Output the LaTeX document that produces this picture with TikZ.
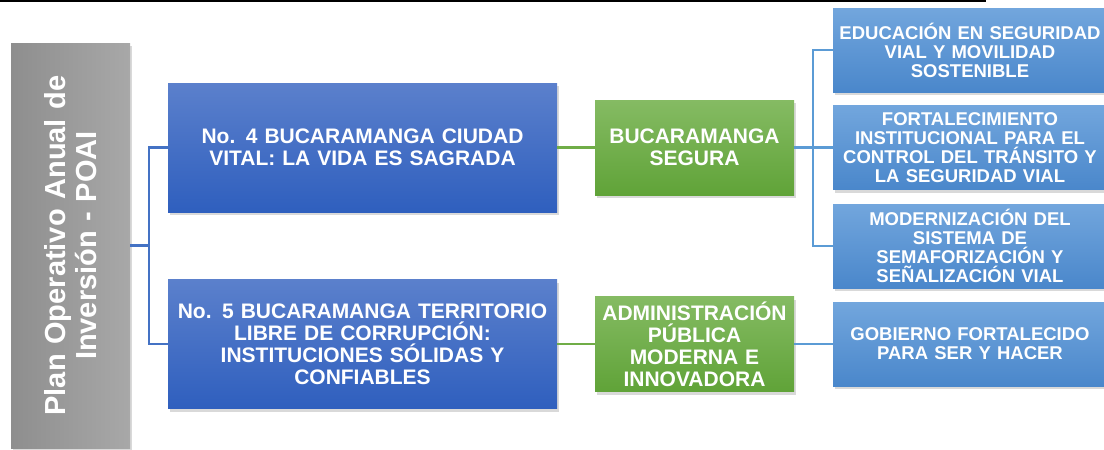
\documentclass[tikz,border=0pt]{standalone}
\usepackage{fontspec}
\setmainfont{Liberation Sans}
\usetikzlibrary{shadows}
\definecolor{grisA}{HTML}{A8A8A8}
\definecolor{grisB}{HTML}{8E8E8E}
\definecolor{azulA}{HTML}{5B80CC}
\definecolor{azulB}{HTML}{2F5FBE}
\definecolor{verdeA}{HTML}{85BB63}
\definecolor{verdeB}{HTML}{60A338}
\definecolor{celA}{HTML}{72A6DD}
\definecolor{celB}{HTML}{4A87CB}
\definecolor{azulL}{HTML}{4472C4}
\definecolor{verdeL}{HTML}{70AD47}
\definecolor{celL}{HTML}{5B9BD5}
\begin{document}
\begin{tikzpicture}[x=1pt,y=-1pt,
    caja/.style={inner sep=0pt,align=center,text=white,font=\bfseries\fontsize{21}{22}\selectfont,
      drop shadow={shadow xshift=2pt,shadow yshift=-3pt,opacity=0.3}},
    eje/.style={caja,minimum width=389pt,minimum height=129pt,text width=380pt,top color=azulA,bottom color=azulB},
    prog/.style={caja,minimum width=199pt,minimum height=95pt,text width=196pt,top color=verdeA,bottom color=verdeB},
    meta/.style={caja,minimum width=274pt,minimum height=84pt,text width=270pt,top color=celA,bottom color=celB,
      font=\bfseries\fontsize{18.5}{19}\selectfont},
    enlace/.style={line width=2.2pt}]
    \useasboundingbox (0,0) rectangle (1104,450);
    \draw[line width=1.8pt] (0,0.9) -- (986,0.9);
    \node[caja,rotate=90,minimum width=405pt,minimum height=119pt,text width=390pt,left color=grisB,right color=grisA,
      font=\bfseries\fontsize{29}{31}\selectfont] (poai) at (70.5,245.5) {Plan Operativo Anual de\\Inversión - POAI};
    \node[eje] (eje4) at (362.5,147.5) {No. 4 BUCARAMANGA CIUDAD\\VITAL: LA VIDA ES SAGRADA};
    \node[eje] (eje5) at (362.5,344) {No. 5 BUCARAMANGA TERRITORIO\\LIBRE DE CORRUPCIÓN:\\INSTITUCIONES SÓLIDAS Y\\CONFIABLES};
    \node[prog] (segura) at (694.5,147.5) {BUCARAMANGA\\SEGURA};
    \node[prog] (admin) at (694.5,344) {ADMINISTRACIÓN\\PÚBLICA\\MODERNA E\\INNOVADORA};
    \node[meta] (educa) at (970,50) {EDUCACIÓN EN SEGURIDAD\\VIAL Y MOVILIDAD\\SOSTENIBLE};
    \node[meta] (fortal) at (970,147.5) {FORTALECIMIENTO\\INSTITUCIONAL PARA EL\\CONTROL DEL TRÁNSITO Y\\LA SEGURIDAD VIAL};
    \node[meta] (semaf) at (970,246) {MODERNIZACIÓN DEL\\SISTEMA DE\\SEMAFORIZACIÓN Y\\SEÑALIZACIÓN VIAL};
    \node[meta] (gobierno) at (970,344) {GOBIERNO FORTALECIDO\\PARA SER Y HACER};
    \draw[enlace,azulL] (poai.south) -- ++(19,0) coordinate (ramaA);
    \draw[enlace,azulL] (eje4.west) -| (ramaA) |- (eje5.west);
    \draw[enlace,verdeL] (eje4.east) -- (segura.west);
    \draw[enlace,verdeL] (eje5.east) -- (admin.west);
    \draw[enlace,celL] (segura.east) -- ++(19,0) coordinate (ramaB);
    \draw[enlace,celL] (educa.west) -| (ramaB) |- (semaf.west);
    \draw[enlace,celL] (ramaB) -- (fortal.west);
    \draw[enlace,celL] (admin.east) -- (gobierno.west);
  \end{tikzpicture}
\end{document}
